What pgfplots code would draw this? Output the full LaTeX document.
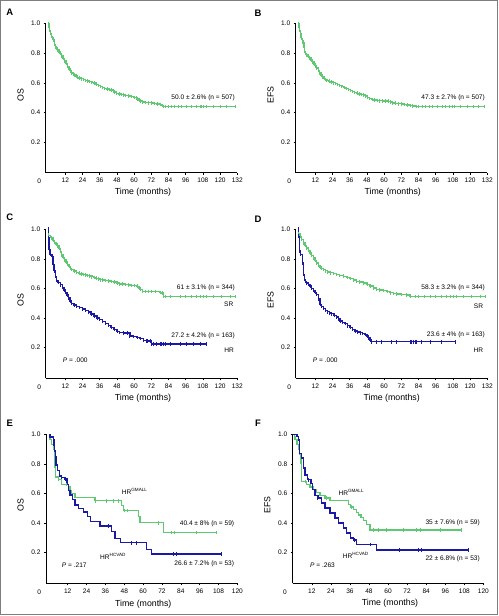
\documentclass[border=0pt]{standalone}
\usepackage{fontspec}
\setmainfont{Liberation Sans}
\usepackage{pgfplots}
\pgfplotsset{compat=1.18}
\definecolor{kmgreen}{RGB}{95,200,115}
\definecolor{kmblue}{RGB}{25,25,165}
\definecolor{frame}{RGB}{125,125,125}
\pgfplotsset{
  km/.style={
    scale only axis,
    width=191.6bp, height=149bp,
    xmin=-1.7, xmax=132, ymin=-0.007, ymax=1.0,
    axis x line*=bottom, axis y line*=left,
    axis line style={-, line width=0.7bp, black},
    xtick={12,24,36,48,60,72,84,96,108,120,132},
    ytick={0.2,0.4,0.6,0.8,1.0},
    tick align=outside, major tick length=2bp,
    tick style={black, line width=0.5bp},
    ticklabel style={font=\fontsize{6.6}{7}\selectfont},
    yticklabel style={/pgf/number format/.cd, fixed, fixed zerofill, precision=1},
    /pgf/number format/assume math mode=true,
    clip=false,
  },
  gline/.style={kmgreen, line width=1.4bp, const plot, mark=|, mark size=1.8bp, mark options={line width=0.7bp, solid}},
  bline/.style={kmblue, line width=1.4bp, const plot, mark=|, mark size=1.8bp, mark options={line width=0.7bp, solid}},
  gplain/.style={kmgreen, line width=1.4bp, const plot, mark=none},
  bplain/.style={kmblue, line width=1.4bp, const plot, mark=none},
  gcens/.style={kmgreen, only marks, mark=|, mark size=1.8bp, mark options={line width=0.7bp}},
  bcens/.style={kmblue, only marks, mark=|, mark size=1.8bp, mark options={line width=0.7bp}},
}
\newcommand{\fs}{\fontsize{6.6}{7}\selectfont}
\begin{document}
\begin{tikzpicture}
\useasboundingbox (0,0) rectangle (499bp,616bp);
\draw[frame, line width=1.2bp] (0.6bp,1.7bp) rectangle (497.4bp,615.4bp);

% ---------------- A ----------------
\begin{axis}[km, at={(45.7bp,443.3bp)}, anchor=south west]
\addplot[gline] table {
0 1.000
0.5 0.975
1.0 0.955
1.5 0.935
2.0 0.925
2.5 0.915
3.0 0.905
3.5 0.895
4.0 0.880
4.5 0.860
5.0 0.845
5.5 0.835
6.5 0.822
7.5 0.810
8.5 0.798
9.5 0.782
10.5 0.765
11.5 0.748
12.5 0.730
13.5 0.712
14.5 0.695
15.5 0.680
16.5 0.668
17.5 0.660
18.5 0.652
19.5 0.644
20.5 0.638
21.5 0.633
23.0 0.628
24.5 0.622
26.0 0.617
27.5 0.612
29.0 0.608
30.5 0.603
32.0 0.598
33.5 0.590
35.0 0.582
36.5 0.575
38.0 0.568
39.5 0.563
41.0 0.559
42.5 0.556
44.0 0.552
45.5 0.547
46.5 0.538
47.8 0.530
49.5 0.526
51.0 0.522
52.5 0.519
54.0 0.516
56.0 0.512
58.0 0.508
60.0 0.502
61.5 0.496
62.5 0.490
63.5 0.483
64.5 0.477
66.0 0.471
68.0 0.468
70.0 0.466
72.0 0.463
74.0 0.460
76.0 0.458
78.0 0.455
79.5 0.448
80.5 0.440
130.4 0.440
};
\addplot[gcens] table {
81.5 0.44
83.9 0.44
86.2 0.44
88.0 0.44
90.9 0.44
93.2 0.44
96.6 0.44
100.1 0.44
103.6 0.44
106.0 0.44
107.1 0.44
108.3 0.44
110.6 0.44
115.3 0.44
119.9 0.44
124.6 0.44
};
\end{axis}

% ---------------- B ----------------
\begin{axis}[km, at={(295.7bp,443.3bp)}, anchor=south west]
\addplot[gline] table {
0 1.000
0.5 0.975
1.0 0.955
1.5 0.930
2.0 0.910
2.5 0.900
3.0 0.885
3.5 0.870
4.0 0.840
4.5 0.812
5.2 0.800
6.0 0.790
7.0 0.780
8.0 0.768
9.0 0.755
10.0 0.742
11.0 0.727
12.0 0.713
13.0 0.700
14.0 0.685
15.0 0.668
16.0 0.652
17.0 0.640
18.0 0.630
19.0 0.623
20.0 0.617
21.5 0.611
23.0 0.606
24.5 0.601
26.0 0.595
27.5 0.589
29.0 0.582
30.5 0.575
32.0 0.568
33.5 0.562
35.0 0.556
36.5 0.549
38.0 0.542
39.5 0.536
41.0 0.530
42.5 0.526
44.0 0.522
45.5 0.518
47.0 0.510
48.5 0.502
50.0 0.495
51.5 0.489
53.0 0.484
55.0 0.481
57.0 0.479
59.0 0.478
61.0 0.477
63.0 0.476
64.5 0.472
66.0 0.465
68.0 0.462
70.0 0.459
72.0 0.456
74.0 0.453
76.0 0.450
78.0 0.448
80.0 0.445
82.5 0.440
130.0 0.440
};
\addplot[gcens] table {
84.0 0.44
86.5 0.44
89.0 0.44
91.5 0.44
93.5 0.44
97.0 0.44
100.5 0.44
103.0 0.44
105.5 0.44
107.5 0.44
109.0 0.44
113.0 0.44
118.0 0.44
122.5 0.44
126.0 0.44
};
\end{axis}

% ---------------- C ----------------
\begin{axis}[km, at={(45.7bp,237.7bp)}, anchor=south west]
\addplot[gline] table {
0 1.000
0.3 0.960
1.5 0.950
2.5 0.940
3.5 0.925
4.5 0.912
5.5 0.900
6.5 0.888
7.5 0.872
8.5 0.850
9.5 0.828
10.5 0.810
11.5 0.793
12.5 0.778
13.5 0.762
14.5 0.748
15.5 0.737
16.5 0.728
17.5 0.722
18.5 0.717
20.0 0.710
21.5 0.703
23.0 0.697
24.5 0.694
26.0 0.691
27.5 0.688
29.0 0.684
30.5 0.679
32.0 0.674
33.5 0.669
35.0 0.664
36.5 0.659
38.0 0.656
40.0 0.654
42.0 0.651
44.0 0.648
46.0 0.644
48.0 0.638
50.0 0.631
52.0 0.629
54.0 0.627
56.0 0.624
58.0 0.621
60.0 0.619
62.0 0.615
63.5 0.604
64.5 0.592
66.0 0.580
78.0 0.574
79.5 0.570
80.5 0.546
130.4 0.546
};
\addplot[gcens] table {
67.6 0.580
69.9 0.580
72.2 0.580
74.5 0.580
81.5 0.546
85.0 0.546
92.0 0.546
95.5 0.546
100.1 0.546
103.6 0.546
106.0 0.546
108.3 0.546
110.6 0.546
115.3 0.546
121.1 0.546
126.9 0.546
};
\addplot[bline] table {
0 1.000
0.2 0.940
0.5 0.862
1.3 0.830
2.8 0.818
3.5 0.762
4.2 0.720
5.0 0.680
5.8 0.655
7.0 0.640
8.5 0.625
10.0 0.608
11.2 0.590
12.2 0.572
13.2 0.556
14.2 0.535
15.2 0.515
16.5 0.500
18.0 0.488
20.0 0.480
22.0 0.472
24.0 0.462
26.0 0.452
28.0 0.440
30.0 0.428
32.0 0.413
34.0 0.400
36.0 0.390
38.0 0.378
40.0 0.365
42.0 0.350
44.0 0.337
46.0 0.322
48.0 0.310
50.0 0.302
52.5 0.300
55.0 0.299
57.0 0.280
59.5 0.275
62.0 0.270
64.0 0.262
66.5 0.250
69.0 0.245
72.0 0.225
110.1 0.225
};
\addplot[bcens] table {
68.8 0.245
71.0 0.245
73.4 0.225
75.7 0.225
78.0 0.225
79.2 0.225
80.4 0.225
81.5 0.225
85.0 0.225
92.0 0.225
96.6 0.225
101.3 0.225
105.9 0.225
};
\end{axis}

% ---------------- D ----------------
\begin{axis}[km, at={(295.7bp,237.7bp)}, anchor=south west]
\addplot[gline] table {
0 1.000
0.3 0.970
1.3 0.953
2.5 0.930
3.6 0.908
4.8 0.890
6.0 0.874
7.2 0.857
8.3 0.840
9.5 0.823
10.6 0.807
11.8 0.790
12.9 0.773
14.1 0.757
15.3 0.744
16.5 0.735
17.6 0.728
19.0 0.720
20.5 0.712
22.2 0.706
24.5 0.700
26.9 0.694
29.0 0.689
31.5 0.683
34.0 0.675
36.2 0.667
38.5 0.658
40.8 0.649
43.0 0.644
45.5 0.638
48.0 0.628
50.1 0.616
52.5 0.604
54.8 0.593
57.0 0.590
59.4 0.587
62.0 0.580
64.1 0.571
66.5 0.567
68.7 0.564
72.0 0.560
75.7 0.555
78.0 0.546
130.4 0.546
};
\addplot[gcens] table {
81.5 0.546
83.9 0.546
88.0 0.546
92.0 0.546
95.5 0.546
100.1 0.546
103.6 0.546
106.0 0.546
108.3 0.546
110.6 0.546
115.3 0.546
121.1 0.546
126.9 0.546
};
\addplot[bline] table {
0 1.000
0.1 0.953
0.8 0.852
1.8 0.829
2.9 0.773
3.6 0.694
4.3 0.660
5.0 0.648
6.0 0.638
7.2 0.627
8.3 0.616
9.5 0.601
10.6 0.587
11.8 0.573
12.9 0.560
14.1 0.530
15.3 0.492
16.5 0.477
17.6 0.465
19.0 0.453
20.5 0.443
22.0 0.435
23.4 0.429
25.0 0.418
26.9 0.407
28.0 0.393
29.2 0.380
31.0 0.371
32.7 0.362
34.5 0.348
36.2 0.335
38.0 0.323
39.7 0.312
41.5 0.306
43.2 0.301
45.0 0.295
46.7 0.290
48.0 0.278
49.0 0.267
50.2 0.253
51.3 0.240
109.4 0.240
};
\addplot[bcens] table {
54.8 0.240
58.3 0.240
65.3 0.240
68.7 0.240
78.0 0.240
79.2 0.240
80.4 0.240
81.5 0.240
82.7 0.240
86.2 0.240
92.0 0.240
100.1 0.240
};
\end{axis}

% ---------------- E ----------------
\begin{axis}[km, at={(46bp,32.7bp)}, anchor=south west, width=191.4bp,
  xmin=-1.8, xmax=120, xtick={12,24,36,48,60,72,84,96,108,120}]
\addplot[gplain] table {
0 1.000
0.8 0.966
1.8 0.932
2.9 0.898
3.6 0.864
4.0 0.780
4.4 0.712
6.1 0.695
8.2 0.661
12.4 0.644
13.5 0.622
14.6 0.600
16.7 0.573
29.4 0.551
46.4 0.518
47.4 0.485
57.0 0.443
58.0 0.402
72.9 0.335
106.4 0.335
};
\addplot[gcens] table {
6.1 0.695
11.4 0.661
29.4 0.551
36.4 0.551
41.1 0.551
44.3 0.551
47.9 0.485
50.2 0.485
69.7 0.402
78.2 0.335
79.7 0.335
93.7 0.335
106.4 0.335
};
\addplot[bplain] table {
0 1.000
0.8 0.981
2.9 0.962
3.3 0.925
3.6 0.887
4.1 0.849
4.6 0.792
5.4 0.755
6.7 0.717
8.2 0.708
10.3 0.698
11.5 0.660
12.4 0.622
13.5 0.589
15.2 0.560
16.7 0.521
18.8 0.499
22.0 0.476
24.5 0.443
26.6 0.409
32.6 0.380
40.0 0.342
42.1 0.297
45.7 0.267
62.3 0.222
65.5 0.191
110.0 0.191
};
\addplot[bcens] table {
8.2 0.708
10.8 0.698
38.0 0.380
52.7 0.267
55.5 0.267
79.3 0.191
81.0 0.191
110.0 0.191
};
\end{axis}

% ---------------- F ----------------
\begin{axis}[km, at={(292.7bp,32.7bp)}, anchor=south west, width=190.7bp,
  xmin=0, xmax=120, xtick={12,24,36,48,60,72,84,96,108,120}]
\addplot[gplain] table {
0 1.000
1.0 0.983
1.5 0.966
2.6 0.932
3.5 0.898
4.2 0.864
5.1 0.805
5.7 0.680
8.8 0.662
10.9 0.645
13.0 0.628
15.1 0.608
17.2 0.588
20.4 0.570
23.5 0.553
35.0 0.527
36.5 0.509
38.2 0.491
40.0 0.473
41.3 0.455
43.0 0.437
44.5 0.419
46.6 0.390
48.7 0.352
106.4 0.352
};
\addplot[gcens] table {
7.8 0.680
21.4 0.570
37.2 0.509
50.7 0.352
53.9 0.352
59.2 0.352
69.7 0.352
78.1 0.352
80.2 0.352
92.8 0.352
106.4 0.352
};
\addplot[bplain] table {
0 1.000
2.6 0.984
3.6 0.962
4.2 0.872
5.7 0.839
6.8 0.771
7.8 0.726
9.3 0.693
11.4 0.666
12.6 0.626
14.1 0.585
16.2 0.570
18.3 0.536
20.4 0.502
23.5 0.469
26.7 0.435
28.8 0.401
31.9 0.368
34.0 0.334
36.3 0.300
38.2 0.285
40.0 0.256
52.9 0.217
110.5 0.217
};
\addplot[bcens] table {
10.0 0.693
15.8 0.570
38.8 0.285
49.1 0.256
66.9 0.217
79.1 0.217
81.2 0.217
110.5 0.217
};
\end{axis}

% ---------------- texts ----------------
\begin{scope}[every node/.style={inner sep=0pt}]
\foreach \x/\y/\t in {9.7/603.7/A, 258/603/B, 9.7/398.3/C, 258/396.6/D, 9.7/192.3/E, 258/192.3/F}
  \node[font=\bfseries\fontsize{9.5}{10}\selectfont] at (\x bp,\y bp) {\t};
\foreach \x/\y/\t in {20.7/521/OS, 270.7/521/EFS, 20.7/316/OS, 270.7/316/EFS, 20.7/111/OS, 267.3/111/EFS}
  \node[rotate=90, font=\fontsize{8.8}{9}\selectfont] at (\x bp,\y bp) {\t};
\foreach \x/\y in {143/423.3, 392.8/423.3, 143/217.7, 391.7/217.7, 143.3/12, 390/12.7}
  \node[font=\fontsize{8.8}{9}\selectfont] at (\x bp,\y bp) {Time (months)};
\foreach \x/\y in {39.3/434.3, 289.3/434.3, 39.3/228.3, 289.3/228.3, 39.3/23.3, 285/23.3}
  \node[font=\fs] at (\x bp,\y bp) {0};
% annotations
\node[anchor=east, font=\fs] at (235bp,518.3bp) {50.0 ± 2.6\% (n = 507)};
\node[anchor=east, font=\fs] at (485bp,517.7bp) {47.3 ± 2.7\% (n = 507)};
\node[anchor=east, font=\fs] at (235bp,327.7bp) {61 ± 3.1\% (n = 344)};
\node[anchor=east, font=\fs] at (233.5bp,312bp) {SR};
\node[anchor=east, font=\fs] at (235bp,280bp) {27.2 ± 4.2\% (n = 163)};
\node[anchor=east, font=\fs] at (234bp,265.3bp) {HR};
\node[anchor=west, font=\fs] at (62.7bp,256bp) {\textit{P} = .000};
\node[anchor=east, font=\fs] at (485bp,327.7bp) {58.3 ± 3.2\% (n = 344)};
\node[anchor=east, font=\fs] at (483.3bp,309.3bp) {SR};
\node[anchor=east, font=\fs] at (485bp,281bp) {23.6 ± 4\% (n = 163)};
\node[anchor=east, font=\fs] at (483.3bp,265.3bp) {HR};
\node[anchor=west, font=\fs] at (312.7bp,256bp) {\textit{P} = .000};
\node[anchor=west, font=\fs] at (121.7bp,125bp) {HR\textsuperscript{GMALL}};
\node[anchor=east, font=\fs] at (234.3bp,92bp) {40.4 ± 8\% (n = 59)};
\node[anchor=west, font=\fs] at (100bp,60bp) {HR\textsuperscript{HCVAD}};
\node[anchor=east, font=\fs] at (234.3bp,52.7bp) {26.6 ± 7.2\% (n = 53)};
\node[anchor=west, font=\fs] at (61.7bp,51bp) {\textit{P} = .217};
\node[anchor=west, font=\fs] at (338.3bp,123.3bp) {HR\textsuperscript{GMALL}};
\node[anchor=east, font=\fs] at (480bp,93.3bp) {35 ± 7.6\% (n = 59)};
\node[anchor=west, font=\fs] at (342.7bp,61bp) {HR\textsuperscript{HCVAD}};
\node[anchor=east, font=\fs] at (480bp,57.7bp) {22 ± 6.8\% (n = 53)};
\node[anchor=west, font=\fs] at (310bp,51bp) {\textit{P} = .263};
\end{scope}
\end{tikzpicture}
\end{document}
